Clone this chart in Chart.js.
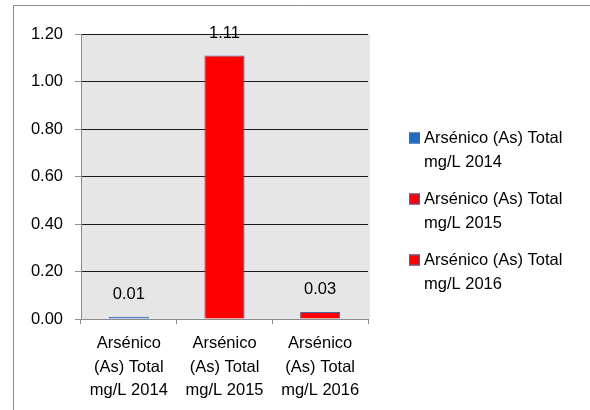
<!DOCTYPE html>
<html>
<head>
<meta charset="utf-8">
<script src="https://cdn.jsdelivr.net/npm/chart.js@4.4.1/dist/chart.umd.min.js"></script>
<style>
  html, body { margin: 0; padding: 0; background: #fff; }
  #wrap { position: relative; width: 590px; height: 410px; }
</style>
</head>
<body>
<div id="wrap"><canvas id="arsenicoChart" width="590" height="410"></canvas></div>
<script>
// data
var categories = [
    ['Arsénico', '(As) Total', 'mg/L 2014'],
    ['Arsénico', '(As) Total', 'mg/L 2015'],
    ['Arsénico', '(As) Total', 'mg/L 2016']
];
var legendNames = ['Arsénico (As) Total mg/L 2014', 'Arsénico (As) Total mg/L 2015', 'Arsénico (As) Total mg/L 2016'];
var values = [0.01, 1.11, 0.03];
var barColors = ['#1f6dc2', '#ff0000', '#ff0000'];
var yTicks = [0, 0.2, 0.4, 0.6, 0.8, 1.0, 1.2];

var FONT = '"Liberation Sans", Arial, sans-serif';
var FONT_SIZE = 16.5;

Chart.defaults.font.family = FONT;
Chart.defaults.font.size = FONT_SIZE;
Chart.defaults.color = '#000';

// outer frame + gray plot background
var backgroundPlugin = {
    id: 'backgroundPlugin',
    beforeDraw: function(chart) {
        var ctx = chart.ctx;
        var a = chart.chartArea;
        ctx.save();
        ctx.strokeStyle = '#8c8c8c';
        ctx.lineWidth = 1;
        ctx.beginPath();
        ctx.moveTo(13.5, 410);
        ctx.lineTo(13.5, 5.5);
        ctx.lineTo(590, 5.5);
        ctx.stroke();
        ctx.fillStyle = '#e6e6e6';
        ctx.fillRect(a.left, a.top, a.right - a.left + 2, a.bottom - a.top);
        ctx.restore();
    }
};

// value labels above the bars
var valueLabels = {
    id: 'valueLabels',
    afterDatasetsDraw: function(chart) {
        var ctx = chart.ctx;
        var meta = chart.getDatasetMeta(0);
        ctx.save();
        ctx.font = FONT_SIZE + 'px ' + FONT;
        ctx.fillStyle = '#000';
        ctx.textAlign = 'center';
        ctx.textBaseline = 'middle';
        meta.data.forEach(function(bar, i) {
            ctx.fillText(values[i].toFixed(2), bar.x, bar.y - 22);
        });
        ctx.restore();
    }
};

// legend on the right, two lines per entry
var sideLegend = {
    id: 'sideLegend',
    afterDraw: function(chart) {
        var ctx = chart.ctx;
        var x = chart.chartArea.right + 41;
        ctx.save();
        ctx.font = FONT_SIZE + 'px ' + FONT;
        ctx.textBaseline = 'middle';
        ctx.textAlign = 'left';
        legendNames.forEach(function(name, i) {
            var y = 138 + i * 61;
            ctx.fillStyle = barColors[i];
            ctx.fillRect(x, y - 5.5, 11, 11);
            ctx.strokeStyle = '#4a64a8';
            ctx.lineWidth = 1;
            ctx.strokeRect(x + 0.5, y - 5, 10, 10);
            ctx.fillStyle = '#000';
            var cut = name.indexOf('mg/L');
            ctx.fillText(name.slice(0, cut).trim(), x + 15, y);
            ctx.fillText(name.slice(cut), x + 15, y + 24);
        });
        ctx.restore();
    }
};

var ctx = document.getElementById('arsenicoChart').getContext('2d');
var chart = new Chart(ctx, {
    type: 'bar',
    data: {
        labels: categories,
        datasets: [{
            data: values,
            backgroundColor: barColors,
            borderColor: '#4a64a8',
            borderWidth: 1,
            barPercentage: 0.42,
            categoryPercentage: 1
        }]
    },
    options: {
        responsive: false,
        animation: false,
        layout: {
            padding: { left: 0, top: 34, right: 222, bottom: 0 }
        },
        plugins: {
            legend: { display: false },
            tooltip: { enabled: false }
        },
        scales: {
            x: {
                grid: {
                    display: true,
                    drawOnChartArea: false,
                    drawTicks: true,
                    tickLength: 5,
                    tickColor: '#8c8c8c',
                    offset: true
                },
                border: { color: '#8c8c8c' },
                ticks: {
                    padding: 8,
                    maxRotation: 0,
                    font: { size: FONT_SIZE, lineHeight: 1.42 }
                },
                afterFit: function(scale) { scale.height = 91; }
            },
            y: {
                min: 0,
                max: 1.2,
                afterBuildTicks: function(scale) {
                    scale.ticks = yTicks.map(function(v) { return { value: v }; });
                },
                ticks: {
                    padding: 12,
                    callback: function(v) { return Number(v).toFixed(2); }
                },
                grid: {
                    color: '#1a1a1a',
                    tickColor: '#8c8c8c',
                    tickLength: 6
                },
                border: { color: '#8c8c8c' },
                afterFit: function(scale) { scale.width = 81; }
            }
        }
    },
    plugins: [backgroundPlugin, valueLabels, sideLegend]
});
</script>
</body>
</html>
